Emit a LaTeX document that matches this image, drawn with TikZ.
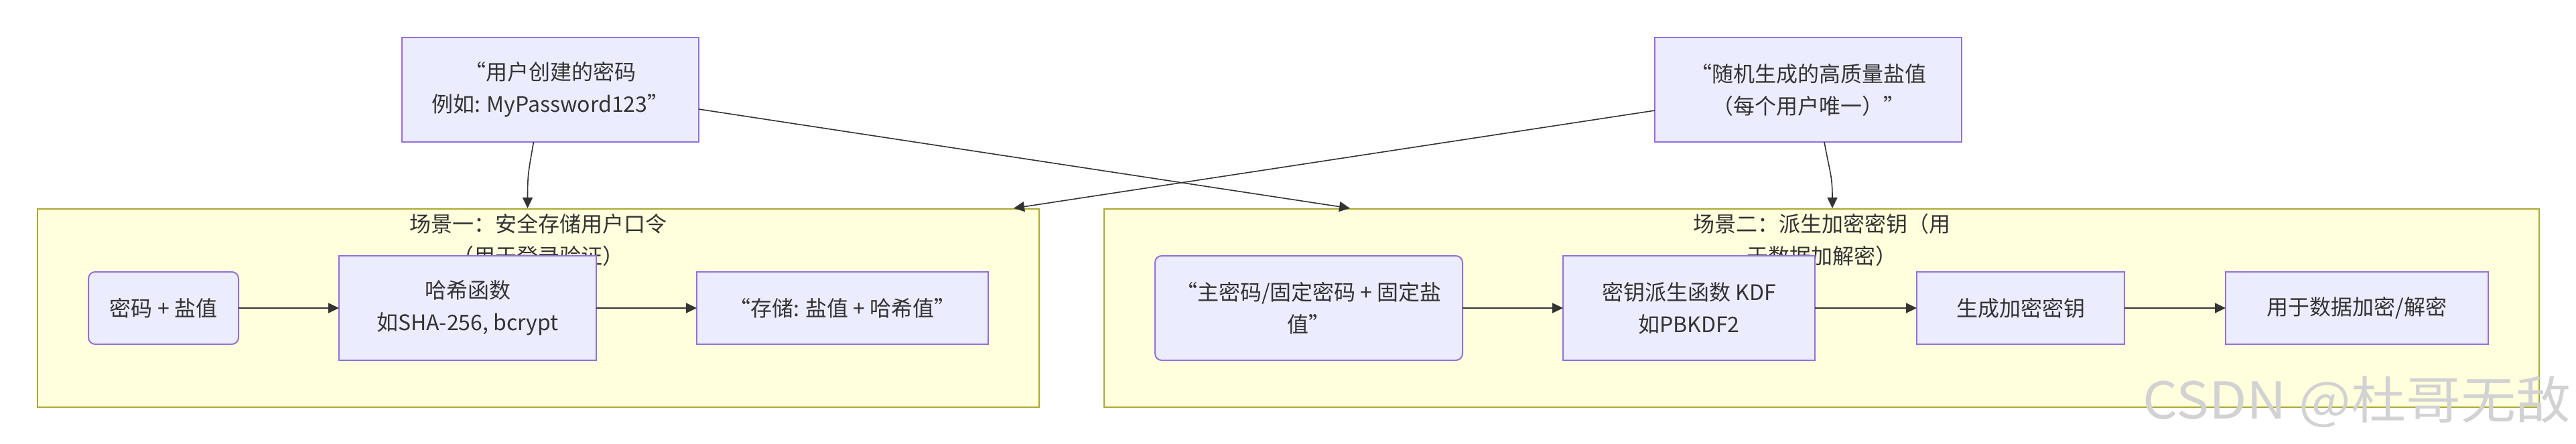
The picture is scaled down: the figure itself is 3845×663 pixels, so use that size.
\documentclass[tikz,border=0pt]{standalone}
\usepackage{fontspec}
\setmainfont{Noto Sans CJK SC}
\usepackage{tikz}
\usetikzlibrary{arrows.meta,positioning,fit,backgrounds}
\definecolor{nodefill}{HTML}{ECECFF}
\definecolor{nodeline}{HTML}{9370DB}
\definecolor{grpfill}{HTML}{FFFFDE}
\definecolor{grpline}{HTML}{AAAA33}
\definecolor{ink}{HTML}{333333}
\tikzstyle{arrow}=[-{Triangle[length=8pt,width=7.5pt]}, line width=0.8pt, draw=ink]

\begin{document}
\begin{tikzpicture}[x=0.5pt,y=-0.5pt,node distance=75pt,
  mod/.style={rectangle,draw=nodeline,fill=nodefill,line width=1pt,text=ink,align=center,
    font=\fontsize{16}{24}\selectfont,inner sep=0pt,outer sep=0pt},
  low/.style={mod,minimum height=54pt},
  high/.style={mod,minimum height=78pt},
  grp/.style={rectangle,draw=grpline,fill=grpfill,line width=1pt,inner xsep=38pt,inner ysep=35pt},
  grptitle/.style={text=ink,align=center,font=\fontsize{16}{24}\selectfont}]
\useasboundingbox (0,0) rectangle (3845,663);
% 输入
\node[high,minimum width=221.5pt] (pw) at (821.5,134) {“用户创建的密码\\例如: MyPassword123”};
\node[high,minimum width=229pt] (salt) at (2699,134) {“随机生成的高质量盐值\\（每个用户唯一）”};
% 场景一
\node[low,rounded corners=5pt,minimum width=112pt] (mix) at (244,460) {密码 + 盐值};
\node[high,minimum width=192pt,right=of mix] (hash) {哈希函数\\如SHA-256, bcrypt};
\node[low,minimum width=217.5pt,right=of hash] (store) {“存储: 盐值 + 哈希值”};
% 场景二
\node[high,rounded corners=5pt,minimum width=229.5pt] (master) at (1953.5,460) {“主密码/固定密码 + 固定盐\\值”};
\node[high,minimum width=188pt,right=of master] (kdf) {密钥派生函数 KDF\\如PBKDF2};
\node[low,minimum width=155pt,right=76pt of kdf] (key) {生成加密密钥};
\node[low,minimum width=196pt,right=75.5pt of key] (use) {用于数据加密/解密};
\begin{scope}[on background layer]
\node[grp,fit=(mix)(hash)(store)] (sc1) {};
\node[grptitle] (sc1t) at ([yshift=-23.5pt]sc1.north) {场景一：安全存储用户口令\\（用于登录验证）};
\node[grp,fit=(master)(kdf)(key)(use)] (sc2) {};
\node[grptitle] (sc2t) at ([yshift=-23.5pt]sc2.north) {场景二：派生加密密钥（用\\于数据加解密）};
\end{scope}
\coordinate (in1) at ([xshift=-8pt]sc1.north);
\coordinate (in2) at ([xshift=-19.5pt]sc1.north east);
\coordinate (in3) at ([xshift=184pt]sc2.north west);
\coordinate (in4) at ([xshift=8pt]sc2.north);
\draw[arrow] (mix) -- (hash); \draw[arrow] (hash) -- (store);
\draw[arrow] (master) -- (kdf); \draw[arrow] (kdf) -- (key);
\draw[arrow] (key) -- (use);
\draw[arrow] ([xshift=-12.5pt]pw.south) .. controls +(-8,45) and +(0,-50) .. (in1);
\draw[arrow] ([xshift=12pt]salt.south) .. controls +(8,45) and +(0,-50) .. (in4);
\draw[arrow] ([yshift=-14.5pt]pw.east) -- (in3);
\draw[arrow] ([yshift=-15.5pt]salt.west) -- (in2);
\node[text=gray!35,font=\fontsize{38}{40}\selectfont,xscale=1.08,anchor=east,inner sep=0pt] (mark) at (3838,600) {CSDN @杜哥无敌};
\end{tikzpicture}
\end{document}
